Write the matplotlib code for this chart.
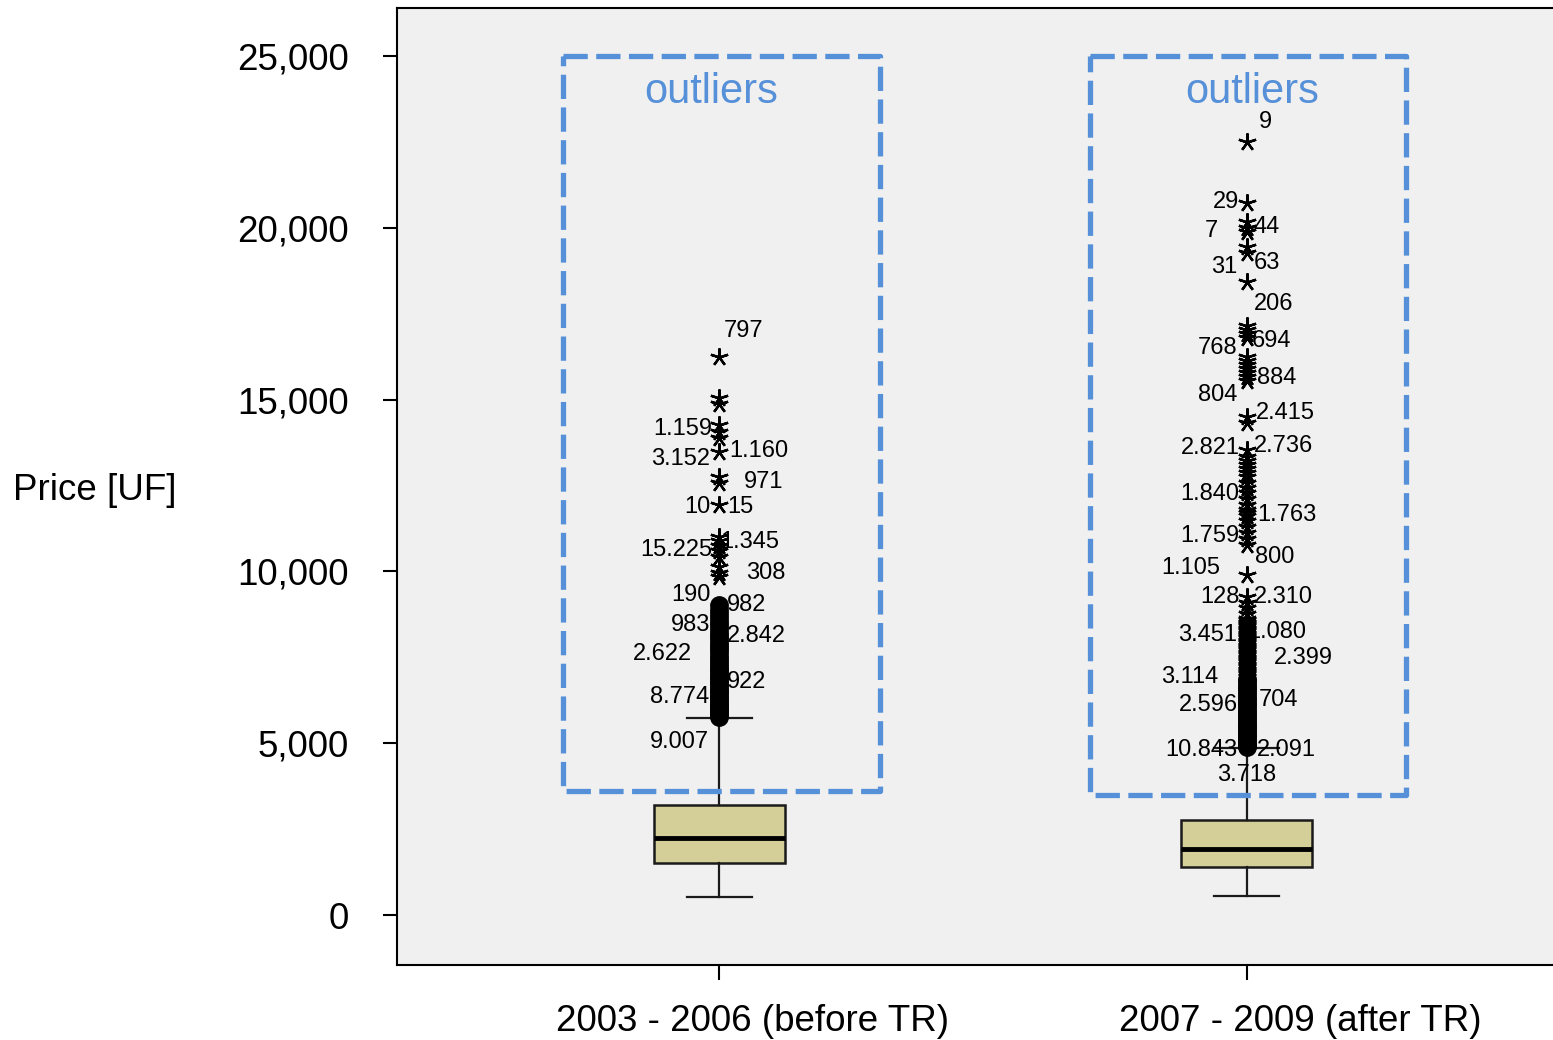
import numpy as np
import matplotlib.pyplot as plt
from matplotlib.transforms import offset_copy, IdentityTransform

plt.rcParams['font.family'] = ['Liberation Sans', 'DejaVu Sans']

# grupos
grupos = ['2003 - 2006 (before TR)', '2007 - 2009 (after TR)']

# estatisticas das caixas (UF)
whislo = [524, 553]
q1 = [1513, 1397]
med = [2241, 1921]
q3 = [3201, 2765]
whishi = [5733, 4860]

# outliers moderados (circulos)
circ1 = [5760, 5810, 5870, 5930, 5990, 6050, 6120, 6180, 6250, 6310, 6380, 6450,
         6520, 6590, 6660, 6740, 6810, 6890, 6960, 7040, 7120, 7200, 7290, 7370,
         7460, 7550, 7640, 7730, 7830, 7920, 8020, 8110, 8210, 8320, 8430, 8540,
         8650, 8770, 8890, 9010]
circ2 = [4880, 4930, 4990, 5040, 5100, 5160, 5220, 5280, 5340, 5400, 5470, 5530,
         5600, 5670, 5740, 5810, 5880, 5950, 6020, 6100, 6170, 6250, 6330, 6410,
         6490, 6570, 6650, 6730, 6800, 6870]

# outliers extremos (estrelas)
star1 = [16240, 15047, 14872, 14261, 14057, 13882, 13475, 12747, 12573, 11932,
         11001, 10885, 10739, 10594, 10419, 10128, 9953, 9837]
star2 = [22497, 20722, 20169, 19994, 19878, 19441, 19267, 18423, 17142, 17026,
         16909, 16793, 16240, 16123, 16007, 15891, 15774, 15658, 15541, 14494,
         14319, 13533, 13330, 13213, 13097, 12980, 12864, 12747, 12573, 12427,
         12282, 12107, 11932, 11787, 11700, 11612, 11467, 11292, 11117, 10943,
         10768, 9895, 9255, 9080, 8935, 8760, 8615, 8580, 8540, 8500, 8470, 8430,
         8400, 8360, 8330, 8290, 8260, 8220, 8190, 8150, 8120, 8080, 8050, 8010,
         7980, 7940, 7910, 7870, 7840, 7800, 7770, 7730, 7700, 7660, 7630, 7590,
         7560, 7520, 7490, 7450, 7420, 7380, 7350, 7310, 7280, 7240, 7210, 7170,
         7140, 7100, 7070, 7030, 7000, 6960, 6930]

# rotulos dos casos
lab1_txt = ['797', '1.159', '3.152', '1.160', '971', '10', '15', '15.225', '1.345',
            '308', '190', '982', '983', '2.842', '2.622', '922', '8.774', '9.007']
lab1_val = [16997, 14144, 13271, 13504, 12602, 11874, 11874, 10623, 10856,
            9953, 9313, 9022, 8440, 8120, 7596, 6781, 6345, 5035]
lab1_dx = [5, -7, -9, 10, 25, -9, 8, -7, 1, 27, -9, 8, -9, 8, -27, 8, -10, -10]

lab2_txt = ['9', '29', '44', '7', '31', '63', '206', '768', '694', '884', '804',
            '2.415', '2.821', '2.736', '1.840', '1.763', '1.759', '800', '1.105',
            '128', '2.310', '3.451', '1.080', '2.399', '3.114', '2.596', '704',
            '10.843', '2.091', '3.718']
lab2_val = [23079, 20751, 20023, 19907, 18859, 18976, 17782, 16502, 16705, 15629,
            15134, 14610, 13591, 13650, 12253, 11641, 11030, 10419, 10099, 9255,
            9255, 8149, 8236, 7480, 6927, 6112, 6257, 4802, 4802, 4074]
lab2_dx = [12, -7, 7, -29, -9, 7, 7, -9, 5, 10, -9, 9, -7, 7, -7, 11, -7, 8, -26,
           -7, 7, -9, 1, 27, -28, -9, 12, -9, 10, 0]

# caixas tracejadas "outliers" (em unidades de dados)
ret_x0 = [0.703, 1.703]
ret_x1 = [1.304, 2.302]
ret_topo = [25000, 25000]
ret_base = [3609, 3492]
titulo_x = [0.985, 2.011]

fig = plt.figure(figsize=(15.53, 10.40), dpi=100)
ax = fig.add_axes([397 / 1553, 1 - 965 / 1040, 1 - 397 / 1553 + 0.002, (965 - 8) / 1040])
ax.set_facecolor('#f0f0f0')
ax.set_xlim(0.389, 2.587)
ax.set_ylim(-1455, 26397)

stats = []
for i in range(2):
    stats.append(dict(whislo=whislo[i], q1=q1[i], med=med[i], q3=q3[i],
                      whishi=whishi[i], fliers=[]))
ax.bxp(stats, positions=[1, 2], widths=0.249, capwidths=0.124, patch_artist=True,
       showfliers=False, manage_ticks=False,
       boxprops=dict(facecolor='#d4cf98', edgecolor='#1a1a1a', linewidth=1.8),
       medianprops=dict(color='black', linewidth=3.5),
       whiskerprops=dict(color='#1a1a1a', linewidth=1.6),
       capprops=dict(color='#1a1a1a', linewidth=1.6))

ax.plot(np.full(len(circ1), 1.0), circ1, 'o', color='black', ms=12.5, zorder=4)
ax.plot(np.full(len(circ2), 2.0), circ2, 'o', color='black', ms=12.5, zorder=4)
ax.plot(np.full(len(star1), 1.0), star1, marker=(5, 2, 0), ls='none',
        color='black', ms=13, mew=1.7, zorder=4)
ax.plot(np.full(len(star2), 2.0), star2, marker=(5, 2, 0), ls='none',
        color='black', ms=13, mew=1.7, zorder=4)

for pos, txts, vals, dxs in [(1, lab1_txt, lab1_val, lab1_dx), (2, lab2_txt, lab2_val, lab2_dx)]:
    for t, v, dx in zip(txts, vals, dxs):
        ha = 'right' if dx < 0 else ('left' if dx > 0 else 'center')
        tr = offset_copy(ax.transData, fig=fig, x=dx * 0.72, y=0, units='points')
        ax.text(pos, v, t, transform=tr, ha=ha, va='center', fontsize=17, zorder=5)

for i in range(2):
    xa, xb = ret_x0[i], ret_x1[i]
    xs = [xa, xb, xb, xa, xa]
    ys = [ret_topo[i], ret_topo[i], ret_base[i], ret_base[i], ret_topo[i]]
    ax.plot(xs, ys, color='#5590d9', lw=3.8, ls=(0, (4.6, 1.6)), zorder=3)
    ax.text(titulo_x[i], 23950, 'outliers', color='#5590d9', fontsize=30,
            ha='center', va='center', zorder=5)

ax.set_yticks([0, 5000, 10000, 15000, 20000, 25000])
ax.set_yticklabels(['0', '5,000', '10,000', '15,000', '20,000', '25,000'])
ax.set_xticks([1, 2])
ax.set_xticklabels(grupos)
ax.tick_params(axis='y', length=10, width=1.5, labelsize=26.5, pad=25)
ax.tick_params(axis='x', length=11, width=1.5, labelsize=26.5, pad=17)
for lbl, dx in zip(ax.get_xticklabels(), [33, 54]):
    lbl.set_transform(lbl.get_transform() + offset_copy(IdentityTransform(), fig=fig, x=dx * 0.72, y=0, units='points'))
ax.spines['right'].set_visible(False)
for s in ['left', 'top', 'bottom']:
    ax.spines[s].set_linewidth(1.5)

fig.text(13 / 1553, 1 - 490 / 1040, 'Price [UF]', fontsize=26.5, va='center', ha='left')

fig.savefig('out.png', dpi=100)
